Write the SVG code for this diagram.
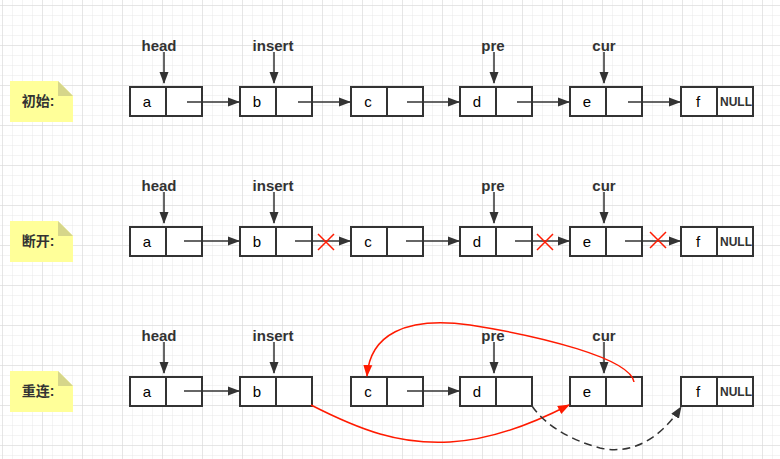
<svg xmlns="http://www.w3.org/2000/svg" width="780" height="459" viewBox="0 0 780 459">
<defs>
<pattern id="minor" x="3" y="6" width="10" height="10" patternUnits="userSpaceOnUse">
<path d="M10 0V10M0 10H10" fill="none" stroke="#e8e8e8" stroke-width="1"/>
</pattern>
<pattern id="major" x="3" y="6" width="40" height="40" patternUnits="userSpaceOnUse">
<path d="M40 0V40M0 40H40" fill="none" stroke="#d9d9d9" stroke-width="1"/>
</pattern>
<marker id="ah" markerWidth="12" markerHeight="10" refX="11" refY="5" orient="auto" markerUnits="userSpaceOnUse">
<path d="M0 0.5L12 5L0 9.5Z" fill="#333"/>
</marker>
<marker id="ahr" markerWidth="12" markerHeight="10" refX="11" refY="5" orient="auto" markerUnits="userSpaceOnUse">
<path d="M0 0.5L12 5L0 9.5Z" fill="#ff1a00"/>
</marker>
<g id="box">
<rect x="0" y="0" width="72" height="29" fill="#fff" stroke="#333" stroke-width="2"/>
<line x1="36" y1="0" x2="36" y2="29" stroke="#333" stroke-width="2"/>
</g>
</defs>
<style>
.lbl{font-family:"Liberation Sans",Arial,sans-serif;font-weight:bold;font-size:15px;fill:#333;text-anchor:middle}
.cell{font-family:"Liberation Sans",Arial,sans-serif;font-size:15px;fill:#000;text-anchor:middle}
.null{font-family:"Liberation Sans",Arial,sans-serif;font-weight:bold;font-size:12px;fill:#333;text-anchor:middle}
.note{font-family:"Liberation Sans","Noto Sans CJK SC",sans-serif;font-weight:bold;font-size:14px;fill:#333;text-anchor:middle}
.ln{stroke:#333;stroke-width:1.5;fill:none}
.red{stroke:#ff1a00;stroke-width:1.5;fill:none}
</style>
<rect width="780" height="459" fill="#fff"/>
<rect width="780" height="459" fill="url(#minor)"/>
<rect width="780" height="459" fill="url(#major)"/>

<!-- notes -->
<g id="note1"><path d="M10 81H58L73 96V122H10Z" fill="#ffff99"/><path d="M58 81L73 96H58Z" fill="#d6d68a"/><text class="note" x="38" y="106">初始:</text></g>
<g id="note2"><path d="M10 221H58L73 236V262H10Z" fill="#ffff99"/><path d="M58 221L73 236H58Z" fill="#d6d68a"/><text class="note" x="38" y="246">断开:</text></g>
<g id="note3"><path d="M10 371H58L73 386V412H10Z" fill="#ffff99"/><path d="M58 371L73 386H58Z" fill="#d6d68a"/><text class="note" x="38" y="396">重连:</text></g>

<!-- pointer labels -->
<g id="labels">
<text class="lbl" x="159" y="51">head</text>
<text class="lbl" x="273" y="51">insert</text>
<text class="lbl" x="493" y="51">pre</text>
<text class="lbl" x="604" y="51">cur</text>
<text class="lbl" x="159" y="191">head</text>
<text class="lbl" x="273" y="191">insert</text>
<text class="lbl" x="493" y="191">pre</text>
<text class="lbl" x="604" y="191">cur</text>
<text class="lbl" x="159" y="341">head</text>
<text class="lbl" x="273" y="341">insert</text>
<text class="lbl" x="493" y="341">pre</text>
<text class="lbl" x="604" y="341">cur</text>
</g>

<!-- row 1 nodes -->
<g id="r1a"><use href="#box" x="130" y="87"/><text class="cell" x="147" y="107">a</text></g>
<g id="r1b"><use href="#box" x="240" y="87"/><text class="cell" x="257" y="107">b</text></g>
<g id="r1c"><use href="#box" x="351" y="87"/><text class="cell" x="368" y="107">c</text></g>
<g id="r1d"><use href="#box" x="460" y="87"/><text class="cell" x="477" y="107">d</text></g>
<g id="r1e"><use href="#box" x="570" y="87"/><text class="cell" x="587" y="107">e</text></g>
<g id="r1f"><use href="#box" x="681" y="87"/><text class="cell" x="698" y="107">f</text><text class="null" x="736" y="106">NULL</text></g>

<!-- row 2 nodes -->
<g id="r2a"><use href="#box" x="130" y="227"/><text class="cell" x="147" y="247">a</text></g>
<g id="r2b"><use href="#box" x="240" y="227"/><text class="cell" x="257" y="247">b</text></g>
<g id="r2c"><use href="#box" x="351" y="227"/><text class="cell" x="368" y="247">c</text></g>
<g id="r2d"><use href="#box" x="460" y="227"/><text class="cell" x="477" y="247">d</text></g>
<g id="r2e"><use href="#box" x="570" y="227"/><text class="cell" x="587" y="247">e</text></g>
<g id="r2f"><use href="#box" x="681" y="227"/><text class="cell" x="698" y="247">f</text><text class="null" x="736" y="246">NULL</text></g>

<!-- row 3 nodes -->
<g id="r3a"><use href="#box" x="130" y="377"/><text class="cell" x="147" y="397">a</text></g>
<g id="r3b"><use href="#box" x="240" y="377"/><text class="cell" x="257" y="397">b</text></g>
<g id="r3c"><use href="#box" x="351" y="377"/><text class="cell" x="368" y="397">c</text></g>
<g id="r3d"><use href="#box" x="460" y="377"/><text class="cell" x="477" y="397">d</text></g>
<g id="r3e"><use href="#box" x="570" y="377"/><text class="cell" x="587" y="397">e</text></g>
<g id="r3f"><use href="#box" x="681" y="377"/><text class="cell" x="698" y="397">f</text><text class="null" x="736" y="396">NULL</text></g>

<!-- connectors -->
<g id="connectors">
<!-- pointer arrows -->
<line class="ln" x1="164" y1="52" x2="164" y2="83" marker-end="url(#ah)"/>
<line class="ln" x1="274" y1="52" x2="274" y2="83" marker-end="url(#ah)"/>
<line class="ln" x1="494" y1="52" x2="494" y2="83" marker-end="url(#ah)"/>
<line class="ln" x1="604" y1="52" x2="604" y2="83" marker-end="url(#ah)"/>
<line class="ln" x1="164" y1="192" x2="164" y2="223" marker-end="url(#ah)"/>
<line class="ln" x1="274" y1="192" x2="274" y2="223" marker-end="url(#ah)"/>
<line class="ln" x1="494" y1="192" x2="494" y2="223" marker-end="url(#ah)"/>
<line class="ln" x1="604" y1="192" x2="604" y2="223" marker-end="url(#ah)"/>
<line class="ln" x1="164" y1="342" x2="164" y2="373" marker-end="url(#ah)"/>
<line class="ln" x1="274" y1="342" x2="274" y2="373" marker-end="url(#ah)"/>
<line class="ln" x1="494" y1="342" x2="494" y2="373" marker-end="url(#ah)"/>
<line class="ln" x1="604" y1="342" x2="604" y2="373" marker-end="url(#ah)"/>
<!-- row 1 links -->
<line class="ln" x1="187" y1="102" x2="239" y2="102" marker-end="url(#ah)"/>
<line class="ln" x1="298" y1="102" x2="350" y2="102" marker-end="url(#ah)"/>
<line class="ln" x1="407" y1="102" x2="459" y2="102" marker-end="url(#ah)"/>
<line class="ln" x1="517" y1="102" x2="569" y2="102" marker-end="url(#ah)"/>
<line class="ln" x1="628" y1="102" x2="680" y2="102" marker-end="url(#ah)"/>
<!-- row 2 links -->
<line class="ln" x1="184" y1="241" x2="239" y2="241" marker-end="url(#ah)"/>
<line class="ln" x1="295" y1="241" x2="350" y2="241" marker-end="url(#ah)"/>
<line class="ln" x1="406" y1="241" x2="459" y2="241" marker-end="url(#ah)"/>
<line class="ln" x1="515" y1="241" x2="569" y2="241" marker-end="url(#ah)"/>
<line class="ln" x1="625" y1="241" x2="680" y2="241" marker-end="url(#ah)"/>
<path class="red" d="M318 234L334 250M334 234L318 250" stroke-width="2"/>
<path class="red" d="M537 234L553 250M553 234L537 250" stroke-width="2"/>
<path class="red" d="M650 232L666 248M666 232L650 248" stroke-width="2"/>
<!-- row 3 links -->
<line class="ln" x1="184" y1="391" x2="239" y2="391" marker-end="url(#ah)"/>
<line class="ln" x1="407" y1="391" x2="459" y2="391" marker-end="url(#ah)"/>
<path class="red" d="M311 405C360 430 400 445 450 442C490 440 530 425 569 405" marker-end="url(#ahr)"/>
<path class="red" d="M634 382C630 358 540 336 470 325C405 316 370 335 367 376" marker-end="url(#ahr)"/>
<path class="ln" d="M532 406C545 425 570 440 600 448C630 455 660 440 681 407" stroke-dasharray="8 5" marker-end="url(#ah)"/>
</g>
</svg>
